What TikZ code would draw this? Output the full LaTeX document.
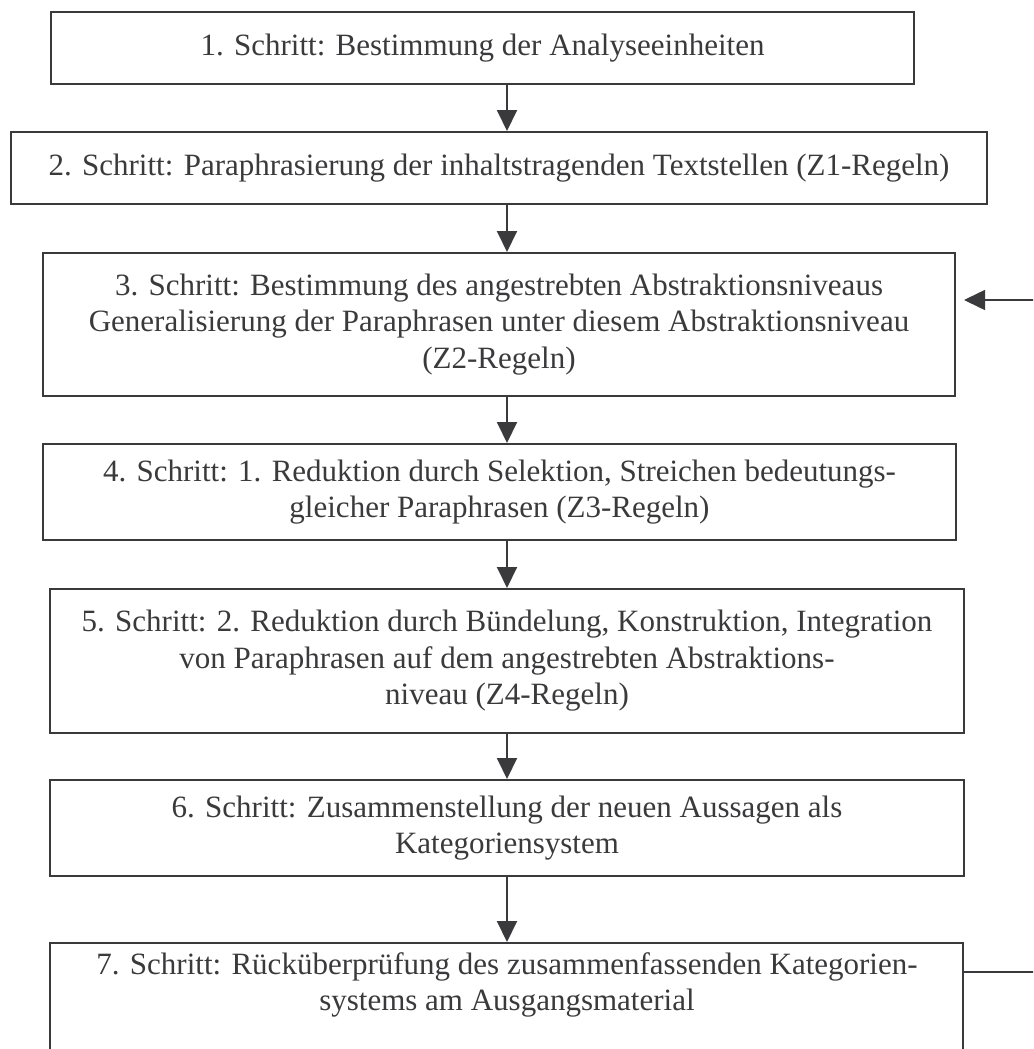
\documentclass[tikz,border=0pt]{standalone}
\usepackage{fontspec}
\setmainfont{Liberation Serif}
\usetikzlibrary{arrows.meta}
\definecolor{ink}{HTML}{3A3A3C}
\begin{document}
\begin{tikzpicture}[x=1pt,y=-1pt,
  stepbox/.style={draw=ink, line width=2pt, inner sep=0pt, align=center,
    font=\fontsize{31}{36.5}\selectfont, text=ink},
  txt/.style={inner sep=0pt, align=center, font=\fontsize{31}{36.5}\selectfont, text=ink},
  arr/.style={draw=ink, line width=2pt, -{Triangle[width=20pt,length=21pt]}},
  fb/.style={draw=ink, line width=1.6pt},
  fbarr/.style={draw=ink, line width=1.6pt, -{Triangle[width=20pt,length=21pt]}}]
\useasboundingbox (0,0) rectangle (1033,1049);
\clip (0,0) rectangle (1033,1049);
\coordinate (ax) at (507,0);
\node[stepbox, minimum width=863pt, minimum height=72pt] (b1) at (482.5,48)
  {1. Schritt: Bestimmung der Analyseeinheiten};
\node[stepbox, minimum width=976pt, minimum height=72pt] (b2) at (499,168)
  {2. Schritt: Paraphrasierung der inhaltstragenden Textstellen (Z1-Regeln)};
\node[stepbox, minimum width=912pt, minimum height=143pt] (b3) at (499,324.5)
  {3. Schritt: Bestimmung des angestrebten Abstraktionsniveaus\\Generalisierung der Paraphrasen unter diesem Abstraktionsniveau\\(Z2-Regeln)};
\node[stepbox, minimum width=913pt, minimum height=96pt] (b4) at (499.5,492)
  {4. Schritt: 1. Reduktion durch Selektion, Streichen bedeutungs-\\gleicher Paraphrasen (Z3-Regeln)};
\node[stepbox, minimum width=914pt, minimum height=144pt] (b5) at (507,661)
  {5. Schritt: 2. Reduktion durch Bündelung, Konstruktion, Integration\\von Paraphrasen auf dem angestrebten Abstraktions-\\niveau (Z4-Regeln)};
\node[stepbox, minimum width=914pt, minimum height=96pt] (b6) at (507,828)
  {6. Schritt: Zusammenstellung der neuen Aussagen als\\Kategoriensystem};
\node[stepbox, minimum width=913pt, minimum height=130pt] (b7) at (506.5,1008) {};
\node[txt] (t7) at (507,985)
  {7. Schritt: Rücküberprüfung des zusammenfassenden Kategorien-\\systems am Ausgangsmaterial};
\draw[arr] (b1.south -| ax) -- (b2.north -| ax);
\draw[arr] (b2.south -| ax) -- (b3.north -| ax);
\draw[arr] (b3.south -| ax) -- (b4.north -| ax);
\draw[arr] (b4.south -| ax) -- (b5.north -| ax);
\draw[arr] (b5.south -| ax) -- (b6.north -| ax);
\draw[arr] (b6.south -| ax) -- (b7.north -| ax);
\coordinate (fbstart) at (b7.east |- 0,972);
\coordinate (fbcorner1) at (1060,972);
\coordinate (fbcorner2) at (1060,300);
\coordinate (fbend) at (964,300);
\draw[fb] (fbstart) -- (fbcorner1) -- (fbcorner2);
\draw[fbarr] (fbcorner2) -- (fbend);
\end{tikzpicture}
\end{document}
